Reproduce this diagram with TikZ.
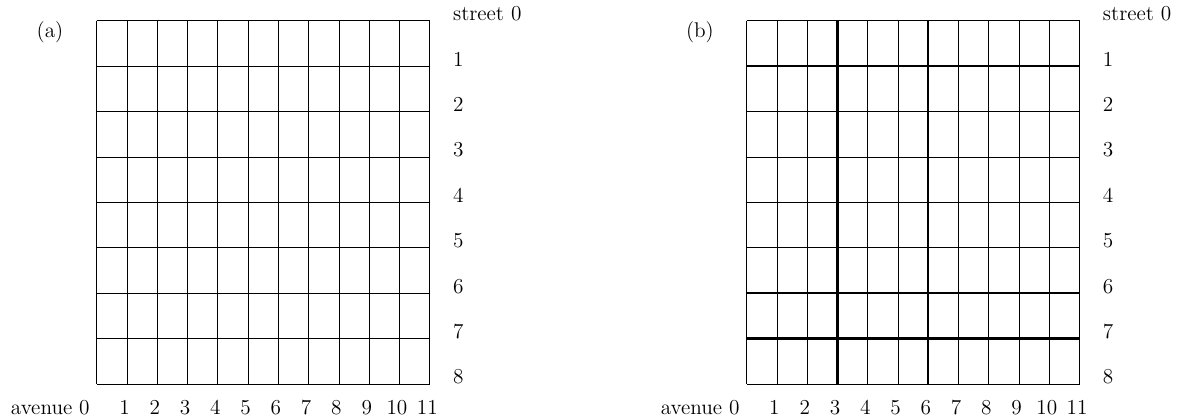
\documentclass[tikz,border=0pt]{standalone}
\usetikzlibrary{positioning,calc}
\tikzset{
  %% gridline : an ordinary street or avenue
  gridline/.style={black, line width=0.4pt},
  %% mainroad : a street or avenue that is picked out
  mainroad/.style={black, line width=1.4pt},
  %% streetlabel : street numbers, right of the grid
  streetlabel/.style={anchor=base west, inner sep=0pt,
    font=\fontsize{12}{14.4}\selectfont},
  %% avenuelabel : avenue numbers, below the grid
  avenuelabel/.style={anchor=base, inner sep=0pt,
    font=\fontsize{12}{14.4}\selectfont},
  %% panellabel : (a), (b)
  panellabel/.style={anchor=center, inner sep=0pt,
    font=\fontsize{12}{14.4}\selectfont}
}
\tikzset{
  citygrid/.pic = {
    \foreach \i in {0,...,11}
      \draw [gridline] (\i,0) -- (\i,8);
    \foreach \j in {0,...,8}
      \draw [gridline] (0,\j) -- (11,\j);
    \node (-st0) [streetlabel] at (11.76,0) {street 0};
    \foreach \j in {1,...,8}
      \node (-st\j) [streetlabel] at (11.76,\j) {\j};
    \node (-av0) [avenuelabel, anchor=base east] at (-0.22,8.674) {avenue 0};
    \foreach \i in {1,...,11}
      \node (-av\i) [avenuelabel] at (\i-0.08,8.674) {\i};
  }
}

\begin{document}
\begin{tikzpicture}
  [x=0.6cm,
  y=-0.9cm]
  \useasboundingbox (-3.195,-0.456) rectangle (35.92,8.773);

  %% panel (a)
  \pic (gridA) at (0,0) {citygrid};
  \node (lblA) [panellabel] at (-1.543,0.242) {(a)};

  %% panel (b)
  \pic (gridB) at (21.47,0) {citygrid};
  \node (lblB) [panellabel] at (21.47-1.543,0.242) {(b)};

  %% main roads in (b)
  \begin{scope}[shift={(21.47,0)}]
    \foreach \i in {3,6}
      \draw [mainroad] (\i,0) -- (\i,8);
    \foreach \j in {1,6,7}
      \draw [mainroad] (0,\j) -- (11,\j);
  \end{scope}

\end{tikzpicture}
\end{document}
